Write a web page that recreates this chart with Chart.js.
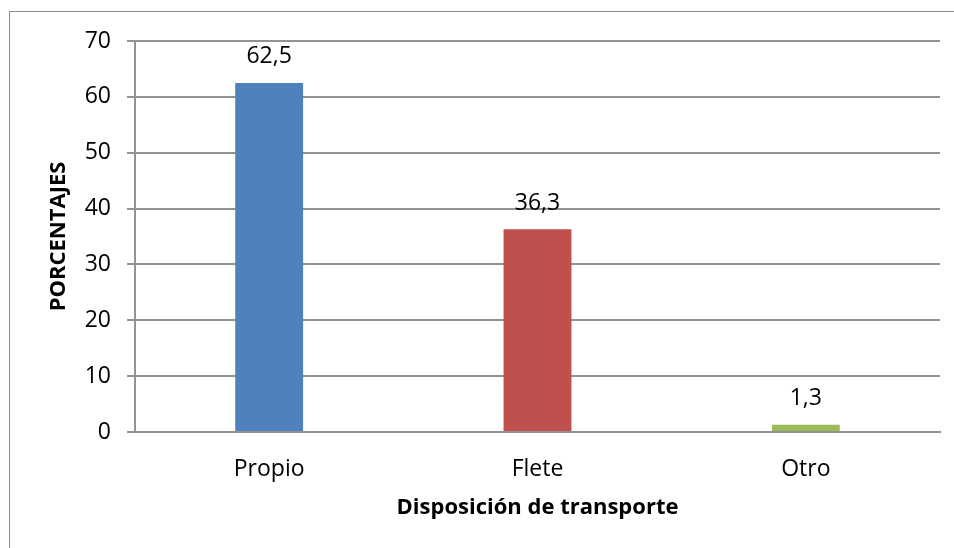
<!DOCTYPE html>
<html>
<head>
<meta charset="utf-8">
<script src="https://cdn.jsdelivr.net/npm/chart.js@4"></script>
<style>
    html, body { margin: 0; padding: 0; background: #fff; }
    #wrap { width: 954px; height: 548px; }
</style>
</head>
<body>
<div id="wrap"><canvas id="barChart" width="954" height="548"></canvas></div>
<script>
// Data
const categories = ['Propio', 'Flete', 'Otro'];
const values = [62.5, 36.3, 1.3];
const barColors = ['#4f81bd', '#c0504d', '#9bbb59'];
const yTicks = [0, 10, 20, 30, 40, 50, 60, 70];

const gridColor = '#929292';

// outer frame + value labels above the bars
const framePlugin = {
    id: 'frame',
    beforeDraw(chart) {
        const c = chart.ctx;
        c.save();
        c.strokeStyle = '#8c8c8c';
        c.lineWidth = 1;
        c.strokeRect(9.5, 11.5, 1000, 600);
        c.restore();
    }
};

const valueLabels = {
    id: 'valueLabels',
    afterDatasetsDraw(chart) {
        const c = chart.ctx;
        const meta = chart.getDatasetMeta(0);
        c.save();
        c.font = '23px "Open Sans"';
        c.fillStyle = '#000';
        c.textAlign = 'center';
        c.textBaseline = 'middle';
        meta.data.forEach((bar, i) => {
            c.fillText(String(values[i]).replace('.', ','), bar.x, bar.y - 26);
        });
        c.restore();
    }
};

const ctx = document.getElementById('barChart');

let chart = new Chart(ctx, {
    type: 'bar',
    data: {
        labels: categories,
        datasets: [{
            data: values,
            backgroundColor: barColors,
            borderWidth: 0,
            barPercentage: 0.253,
            categoryPercentage: 1
        }]
    },
    plugins: [framePlugin, valueLabels],
    options: {
        responsive: false,
        animation: false,
        layout: {
            padding: { left: 0, top: 41, right: 14, bottom: 0 }
        },
        scales: {
            x: {
                afterFit: function (scale) { scale.height = 116; },
                grid: { display: false, drawTicks: false },
                border: { display: true, color: gridColor, width: 2 },
                ticks: {
                    color: '#000',
                    padding: 24,
                    font: { family: 'Open Sans', size: 23 }
                },
                title: {
                    display: true,
                    text: 'Disposición de transporte',
                    color: '#000',
                    font: { family: 'Open Sans', size: 22, weight: 'bold' },
                    padding: { top: 0, bottom: 27 }
                }
            },
            y: {
                min: 0,
                max: 70,
                afterFit: function (scale) { scale.width = 135; },
                afterBuildTicks: function (scale) {
                    scale.ticks = yTicks.map(v => ({ value: v }));
                },
                grid: {
                    color: gridColor,
                    tickColor: gridColor,
                    tickLength: 8,
                    lineWidth: 2
                },
                border: { display: true, color: gridColor, width: 2 },
                ticks: {
                    color: '#000',
                    padding: 16,
                    font: { family: 'Open Sans', size: 23 }
                },
                title: {
                    display: true,
                    text: 'PORCENTAJES',
                    color: '#000',
                    font: { family: 'Open Sans', size: 22, weight: 'bold' },
                    padding: { top: 46, bottom: 0 }
                }
            }
        },
        plugins: {
            legend: { display: false },
            tooltip: { enabled: false }
        }
    }
});
</script>
</body>
</html>
